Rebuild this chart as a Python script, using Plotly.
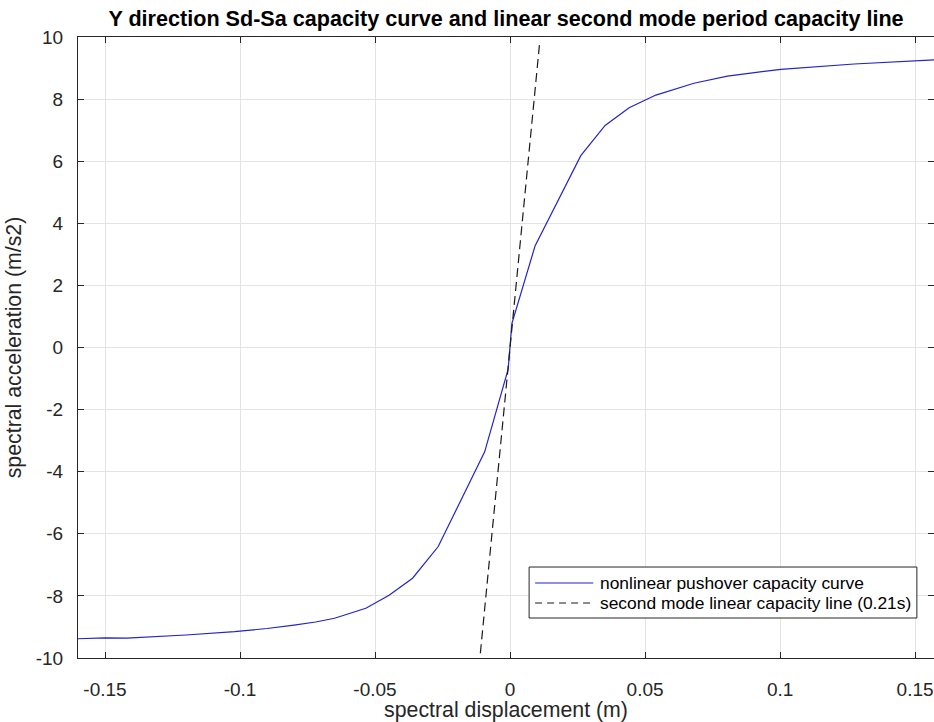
import numpy as np
import plotly.graph_objects as go

# Nonlinear pushover capacity curve (Sd in m, Sa in m/s2)
sd_curve = [-0.16, -0.15, -0.142, -0.12, -0.102, -0.09, -0.08, -0.072, -0.065,
            -0.0534, -0.0448, -0.0361, -0.0266, -0.0094, -0.0007, 0.0007,
            0.0093, 0.0262, 0.0352, 0.0441, 0.054, 0.0681, 0.0805, 0.1003,
            0.1274, 0.16]
sa_curve = [-9.38, -9.35, -9.36, -9.26, -9.15, -9.05, -8.94, -8.84, -8.72,
            -8.40, -7.98, -7.43, -6.41, -3.36, -0.70, 0.78,
            3.28, 6.18, 7.15, 7.72, 8.13, 8.51, 8.74, 8.96,
            9.13, 9.28]

# Second mode linear capacity line: Sa = (2*pi/T)^2 * Sd
period_2 = 0.21
sd_line = [-0.011, 0.011]
omega_sq = (2 * np.pi / period_2) ** 2
sa_line = [omega_sq * d for d in sd_line]

x_ticks = [-0.15, -0.1, -0.05, 0, 0.05, 0.1, 0.15]
x_tick_text = ["-0.15", "-0.1", "-0.05", "0", "0.05", "0.1", "0.15"]
y_ticks = [-10, -8, -6, -4, -2, 0, 2, 4, 6, 8, 10]
y_tick_text = [str(v) for v in y_ticks]

FONT = "Liberation Sans, Arial, Helvetica, sans-serif"
AX = "#262626"
GRID = "#e3e3e3"
CURVE_COLOR = "#2323c8"
LINE_COLOR = "#1a1a1a"
DASH = "9px,5px"

curve_name = "nonlinear pushover capacity curve"
line_name = f"second mode linear capacity line ({period_2}s)"

fig = go.Figure()
fig.add_trace(go.Scatter(
    x=sd_curve, y=sa_curve, mode="lines", name=curve_name,
    line=dict(color=CURVE_COLOR, width=1.2),
))
fig.add_trace(go.Scatter(
    x=sd_line, y=sa_line, mode="lines", name=line_name,
    line=dict(color=LINE_COLOR, width=1.2, dash=DASH),
))

axis_common = dict(
    showgrid=True, gridcolor=GRID, gridwidth=1,
    zeroline=False, showline=True, linecolor=AX, linewidth=1,
    ticks="inside", ticklen=6, tickcolor=AX, mirror="ticks",
    tickfont=dict(family=FONT, size=19, color=AX),
)

# Boxed legend in the lower right corner of the axes (paper coordinates)
box_x0, box_x1 = 0.527, 0.980
box_y0, box_y1 = 0.0644, 0.1465
row_y = [0.1208, 0.0886]
sample_x0, sample_x1 = 0.534, 0.602
text_x = 0.6075

shapes = [
    dict(type="rect", xref="paper", yref="paper",
         x0=box_x0, x1=box_x1, y0=box_y0, y1=box_y1,
         line=dict(color=AX, width=1), fillcolor="white", layer="above"),
    dict(type="line", xref="paper", yref="paper",
         x0=sample_x0, x1=sample_x1, y0=row_y[0], y1=row_y[0],
         line=dict(color=CURVE_COLOR, width=1.2), layer="above"),
    dict(type="line", xref="paper", yref="paper",
         x0=sample_x0, x1=sample_x1, y0=row_y[1], y1=row_y[1],
         line=dict(color=LINE_COLOR, width=1.2, dash="7px,5px"), layer="above"),
]
annotations = [
    dict(text=name, xref="paper", yref="paper", x=text_x, y=ry,
         xanchor="left", yanchor="middle", showarrow=False,
         font=dict(family=FONT, size=17.4, color="black"))
    for name, ry in zip([curve_name, line_name], row_y)
]

fig.update_layout(
    width=934, height=722,
    margin=dict(l=78, r=0, t=37, b=64),
    paper_bgcolor="white", plot_bgcolor="white",
    title=dict(
        text="<b>Y direction Sd-Sa capacity curve and linear second mode period capacity line</b>",
        font=dict(family=FONT, size=21.6, color="black"),
        x=0.5, xref="paper", xanchor="center",
        y=1 - 18 / 722, yref="container", yanchor="middle",
    ),
    xaxis=dict(
        range=[-0.16, 0.157], tickvals=x_ticks, ticktext=x_tick_text,
        title=dict(text="spectral displacement (m)",
                   font=dict(family=FONT, size=21.3, color=AX), standoff=5),
        ticklabelstandoff=14,
        **axis_common,
    ),
    yaxis=dict(
        range=[-10, 10], tickvals=y_ticks, ticktext=y_tick_text,
        title=dict(text="spectral acceleration (m/s2)",
                   font=dict(family=FONT, size=21.3, color=AX), standoff=8),
        ticklabelstandoff=10,
        **axis_common,
    ),
    shapes=shapes,
    annotations=annotations,
    showlegend=False,
)

fig.write_html("out.html")
